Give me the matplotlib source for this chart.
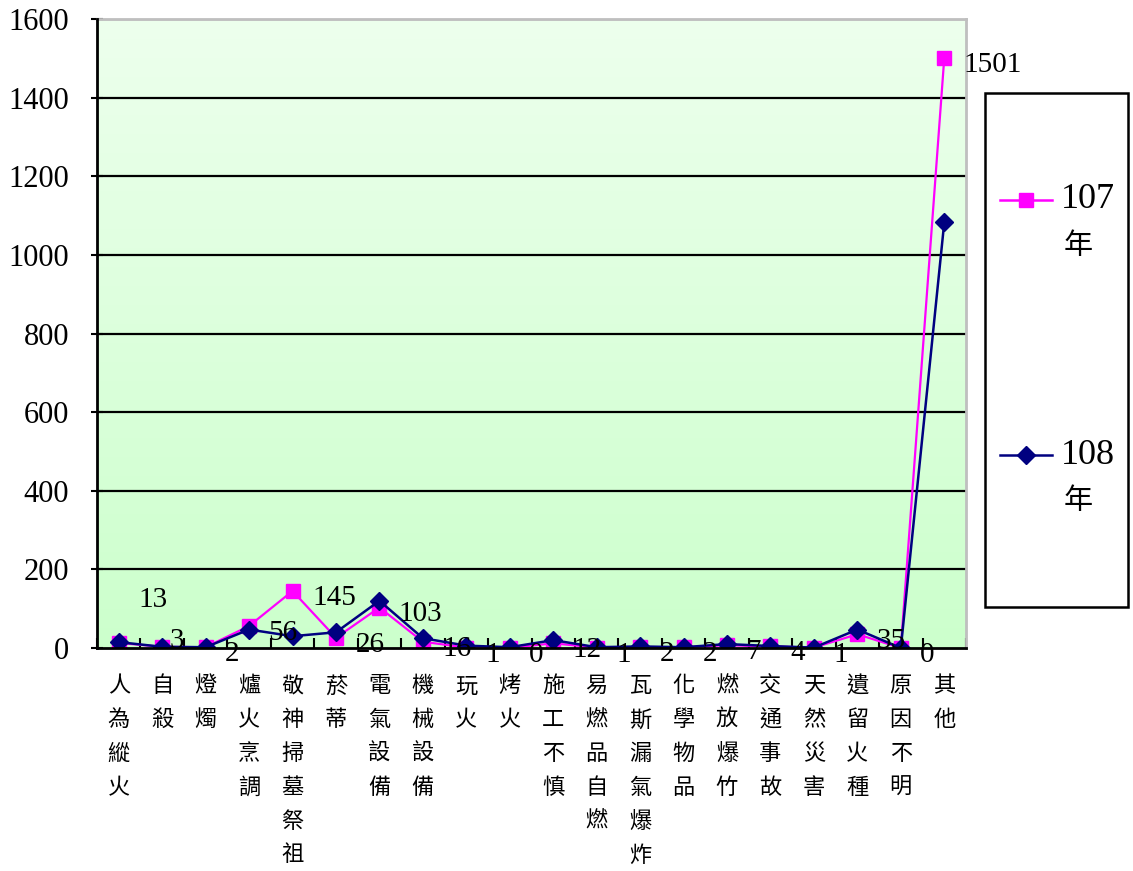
import numpy as np
import matplotlib
matplotlib.use("Agg")
import matplotlib.pyplot as plt
from matplotlib.colors import LinearSegmentedColormap
from matplotlib.lines import Line2D
from matplotlib.patches import Rectangle

# fire causes, 107 vs 108
categories = ['人為縱火', '自殺', '燈燭', '爐火烹調', '敬神掃墓祭祖', '菸蒂', '電氣設備',
              '機械設備', '玩火', '烤火', '施工不慎', '易燃品自燃', '瓦斯漏氣爆炸', '化學物品',
              '燃放爆竹', '交通事故', '天然災害', '遺留火種', '原因不明', '其他']
y107 = [13, 3, 2, 56, 145, 26, 103, 16, 1, 0, 12, 1, 2, 2, 7, 4, 1, 35, 0, 1501]
y108 = [15, 3, 2, 47, 30, 40, 120, 25, 6, 2, 20, 2, 4, 2, 10, 5, 1, 47, 0, 1083]
series_names = ['107', '108']
yticks = [0, 200, 400, 600, 800, 1000, 1200, 1400, 1600]

PINK = '#FF00FF'
NAVY = '#000080'
NUM_FONT = ['Liberation Serif', 'Noto Sans CJK TC']
CJK_FONT = ['Noto Sans CJK TC', 'DejaVu Sans']

W, H = 1133, 871
fig = plt.figure(figsize=(W / 100, H / 100), dpi=100)
ax = fig.add_axes([97 / W, 1 - 648 / H, (966 - 97) / W, (648 - 19) / H])

x = np.arange(len(categories))
ax.set_xlim(-0.5, len(categories) - 0.5)
ax.set_ylim(0, 1600)

# green gradient background
cmap = LinearSegmentedColormap.from_list('bg', ['#CCFFCC', '#EDFFED'])
grad = np.linspace(0, 1, 256).reshape(-1, 1)
ax.imshow(grad, extent=[-0.5, len(categories) - 0.5, 0, 1600], aspect='auto',
          origin='lower', cmap=cmap, zorder=0)

ax.set_yticks(yticks)
for t in yticks[1:]:
    ax.axhline(t, color='black', lw=1.6, zorder=1)

ax.plot(x, y107, color=PINK, lw=1.6, marker='s', markersize=10,
        markerfacecolor=PINK, markeredgecolor=PINK, zorder=3)
ax.plot(x, y108, color=NAVY, lw=1.8, marker='D', markersize=9,
        markerfacecolor=NAVY, markeredgecolor=NAVY, zorder=4)

# data labels for 107 (a couple nudged like the original)
nudge = {0: (0, 31), 1: (-9, 4)}
for i, v in enumerate(y107):
    dx, dy = nudge.get(i, (0, -5))
    ax.annotate(str(v), (x[i], v), xytext=(14 + dx, dy), textcoords='offset points',
                ha='left', va='center', fontsize=21, family=NUM_FONT,
                color='black', zorder=5, annotation_clip=False)

# x axis: vertical stacked labels
ax.set_xticks(x)
ax.set_xticklabels(['\n'.join(c) for c in categories], family=CJK_FONT,
                   fontsize=16, linespacing=1.6, va='top')
ax.set_xticks(np.arange(-0.5, len(categories), 1), minor=True)
ax.tick_params(axis='x', which='major', length=0, pad=19)
ax.tick_params(axis='x', which='minor', direction='in', length=7, width=1.5)
ax.tick_params(axis='y', direction='inout', length=8, width=1.5, pad=16,
               labelsize=22)
for lab in ax.get_yticklabels():
    lab.set_family(NUM_FONT)

for s in ['left', 'bottom']:
    ax.spines[s].set_color('black')
    ax.spines[s].set_linewidth(2)
    ax.spines[s].set_zorder(6)
for s in ['top', 'right']:
    ax.spines[s].set_color('#BFBFBF')
    ax.spines[s].set_linewidth(2)

# legend box drawn by hand so entries line up like the original
fig.add_artist(Rectangle((985 / W, 1 - 607 / H), 143 / W, 514 / H,
                         transform=fig.transFigure, facecolor='white',
                         edgecolor='black', lw=1.8))
for name, color, mk, ms, ypix in [(series_names[0], PINK, 's', 10, 200),
                                  (series_names[1], NAVY, 'D', 9, 455)]:
    yf = 1 - ypix / H
    fig.add_artist(Line2D([1000 / W, 1052 / W], [yf, yf], transform=fig.transFigure,
                          color=color, lw=1.8))
    fig.add_artist(Line2D([1026 / W], [yf], transform=fig.transFigure, color=color,
                          marker=mk, markersize=ms, markerfacecolor=color,
                          markeredgecolor=color))
    fig.text(1061 / W, yf, name, ha='left', va='center', fontsize=26, family=NUM_FONT)
    fig.text(1064 / W, 1 - (ypix + 46) / H, '年', ha='left', va='center',
             fontsize=21, family=CJK_FONT)

fig.savefig('out.png', dpi=100)
